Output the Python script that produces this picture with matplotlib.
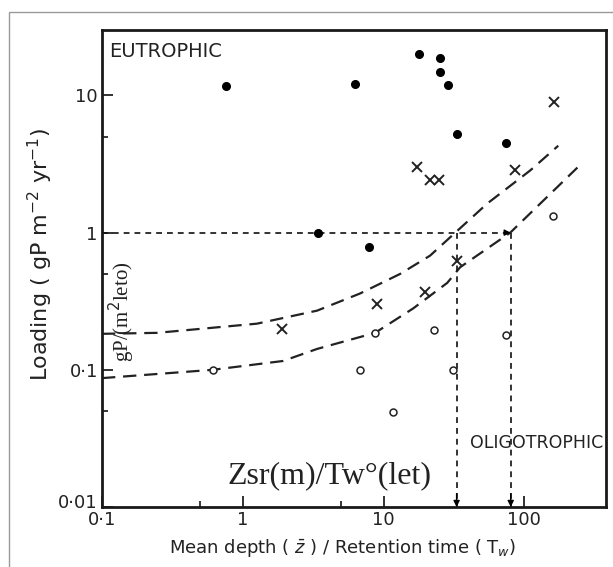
import matplotlib.pyplot as plt
from matplotlib.patches import Rectangle
from matplotlib.ticker import FixedLocator, NullFormatter
from matplotlib.transforms import ScaledTranslation

# eutrophic lakes (filled dots)
eu_x = [0.76, 6.3, 17.9, 25.2, 25.2, 28.8, 33.3, 74, 3.4, 7.9]
eu_y = [11.8, 12.2, 20, 18.6, 14.7, 12, 5.2, 4.5, 1.0, 0.78]

# mesotrophic lakes (crosses)
meso_x = [163, 17.3, 21.4, 24.8, 86, 33.3, 19.8, 9.0, 1.9]
meso_y = [9.0, 3.0, 2.4, 2.4, 2.84, 0.62, 0.37, 0.30, 0.2]

# oligotrophic lakes (open circles)
oligo_x = [0.61, 8.7, 22.9, 74, 6.8, 31.3, 11.7, 160]
oligo_y = [0.1, 0.186, 0.195, 0.18, 0.1, 0.1, 0.049, 1.33]

# dashed boundary curves
upper_x = [0.1, 0.246, 1.26, 3.37, 6.8, 13.1, 21.4, 32.3, 54.5, 110, 174]
upper_y = [0.183, 0.186, 0.217, 0.27, 0.36, 0.50, 0.68, 1.0, 1.63, 2.84, 4.3]
lower_x = [0.1, 0.61, 1.93, 3.37, 8.7, 16.2, 28.3, 35, 79.4, 238]
lower_y = [0.087, 0.1, 0.116, 0.142, 0.186, 0.28, 0.43, 0.56, 1.0, 2.98]

# reference loading and the depth/retention values where it meets the curves
load_ref = 1.0
x_ref = [33, 80]

x_ticks = [0.1, 1, 10, 100]
x_ticklabels = ['0·1', '1', '10', '100']
y_ticks = [0.01, 0.1, 1, 10]
y_ticklabels = ['0·01', '0·1', '1', '10']
x_minor = [0.5, 5]
y_minor = [0.05, 0.5, 5]

fig = plt.figure(figsize=(6.13, 5.67), dpi=100)
ax = fig.add_axes([0.1664, 0.1058, 0.8222, 0.8413])

# thin grey frame of the scanned page
fig.patches.append(Rectangle((9 / 613, -0.1), 1.1, 1 - 12 / 567 + 0.1,
                             transform=fig.transFigure, fill=False,
                             edgecolor='#9a9a9a', lw=1.0))

ax.set_xscale('log')
ax.set_yscale('log')
ax.set_xlim(0.1, 380)
ax.set_ylim(0.01, 30)

curve_style = dict(color='#222222', lw=1.6, linestyle=(0, (6, 3.5)))
ax.plot(upper_x, upper_y, **curve_style)
ax.plot(lower_x, lower_y, **curve_style)

ref_style = dict(color='#111111', lw=1.2, linestyle=(0, (3.5, 3)))
ax.plot([0.1, x_ref[1]], [load_ref, load_ref], **ref_style)
for xr in x_ref:
    ax.plot([xr, xr], [load_ref, 0.01], **ref_style)
    ax.annotate('', xy=(xr, 0.01), xytext=(xr, 0.0125),
                arrowprops=dict(arrowstyle='-|>', color='k', lw=1,
                                mutation_scale=9, shrinkA=0, shrinkB=0))
ax.annotate('', xy=(x_ref[1], load_ref), xytext=(x_ref[1] * 0.92, load_ref),
            arrowprops=dict(arrowstyle='-|>', color='k', lw=1,
                            mutation_scale=9, shrinkA=0, shrinkB=0))

ax.plot(eu_x, eu_y, 'o', color='k', ms=5.5, zorder=5)
ax.plot(meso_x, meso_y, 'x', color='#222222', ms=7, mew=1.4, zorder=5)
ax.plot(oligo_x, oligo_y, 'o', mfc='white', mec='#222222', ms=5, mew=1.1,
        zorder=5)

ax.text(0.015, 0.975, 'EUTROPHIC', transform=ax.transAxes, fontsize=14,
        ha='left', va='top', color='#222222')
ax.text(0.995, 0.135, 'OLIGOTROPHIC', transform=ax.transAxes, fontsize=12.5,
        ha='right', va='center', color='#222222')

ax.text(0.452, 0.065, 'Zsr(m)/Tw°(let)', transform=ax.transAxes,
        family='Liberation Serif', fontsize=23, ha='center', va='center',
        color='#222222')
ax.text(0.04, 0.41, 'gP/(m$^2$leto)', transform=ax.transAxes,
        family='Liberation Serif', fontsize=15, rotation=90,
        ha='center', va='center', color='#222222')

ax.xaxis.set_major_locator(FixedLocator(x_ticks))
ax.set_xticklabels(x_ticklabels)
ax.yaxis.set_major_locator(FixedLocator(y_ticks))
ax.set_yticklabels(y_ticklabels)
ax.xaxis.set_minor_locator(FixedLocator(x_minor))
ax.yaxis.set_minor_locator(FixedLocator(y_minor))
ax.xaxis.set_minor_formatter(NullFormatter())
ax.yaxis.set_minor_formatter(NullFormatter())
ax.tick_params(which='major', direction='in', length=8, width=1.3,
               labelsize=13, pad=3, colors='#222222')
ax.tick_params(which='minor', direction='in', length=4, width=1.1)

# lift the bottom y label a little so it sits above the x label, as in the scan
lab = ax.get_yticklabels()[0]
lab.set_transform(lab.get_transform() + ScaledTranslation(0, 6 / 100, fig.dpi_scale_trans))

for s in ax.spines.values():
    s.set_linewidth(2)
    s.set_color('#1a1a1a')

fig.text(40 / 613, 1 - 255 / 567, 'Loading ( gP m$^{-2}$ yr$^{-1}$)',
         rotation=90, ha='center', va='center', fontsize=16,
         color='#222222')
fig.text(343 / 613, 1 - 548 / 567,
         'Mean depth ( $\\bar{z}$ ) / Retention time ( T$_w$)',
         ha='center', va='center', fontsize=13, color='#222222')

fig.savefig('out.png', dpi=100)
